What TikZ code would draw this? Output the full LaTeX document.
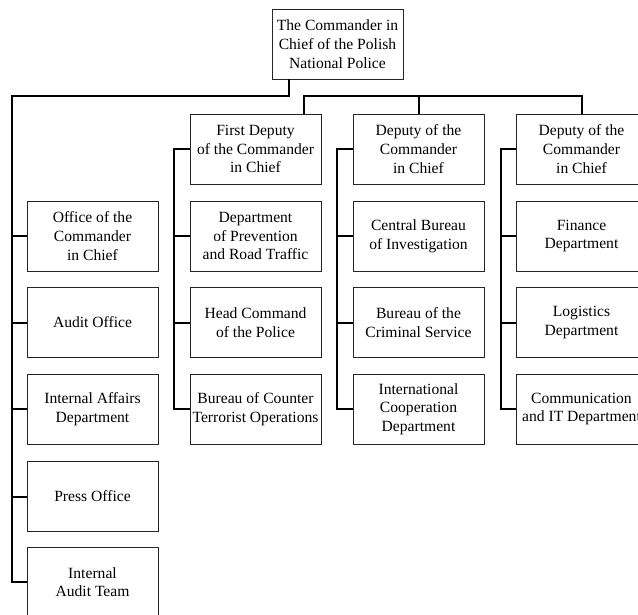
\documentclass[tikz,border=0pt]{standalone}
\usepackage{fontspec}
\setmainfont{Liberation Serif}
\usetikzlibrary{positioning,calc}

\begin{document}
\begin{tikzpicture}[
    x=0.75pt, y=-0.75pt,
    font=\fontsize{11.7}{14}\selectfont,
    unitbox/.style={draw=black!85, line width=0.6pt, fill=white, align=center, inner sep=1pt, minimum width=98.25pt, minimum height=52.5pt},
    link/.style={draw=black, line width=1.5pt}
]

  \useasboundingbox (0,0) rectangle (638,614);
  \clip (0,0) rectangle (638,614);

  % =========================================================================
  % TOP: COMMANDER IN CHIEF AND DEPUTIES
  % =========================================================================
  \node[unitbox] (root) at (337.5, 44) {The Commander in\\Chief of the Polish\\National Police};

  \node[unitbox] (dep1) at (255.5, 149) {First Deputy\\of the Commander\\in Chief};
  \node[unitbox] (dep2) at (418.5, 149) {Deputy of the\\Commander\\in Chief};
  \node[unitbox] (dep3) at (581.5, 149) {Deputy of the\\Commander\\in Chief};

  % =========================================================================
  % LEFT COLUMN: UNITS UNDER THE COMMANDER
  % =========================================================================
  \node[unitbox] (ofc)     at (92.5, 236)   {Office of the\\Commander\\in Chief};
  \node[unitbox] (audit)   at (92.5, 322.5) {Audit Office};
  \node[unitbox] (affairs) at (92.5, 409)   {Internal Affairs\\Department};
  \node[unitbox] (press)   at (92.5, 496.5) {Press Office};
  \node[unitbox] (team)    at (92.5, 582)   {Internal\\Audit Team};

  % =========================================================================
  % DEPUTY COLUMNS
  % =========================================================================
  \node[unitbox] (prev)   at (255.5, 236)   {Department\\of Prevention\\and Road Traffic};
  \node[unitbox] (police) at (255.5, 322.5) {Head Command\\of the Police};
  \node[unitbox] (cto)    at (255.5, 409)   {Bureau of Counter\\Terrorist Operations};

  \node[unitbox] (cbi)  at (418.5, 236)   {Central Bureau\\of Investigation};
  \node[unitbox] (crim) at (418.5, 322.5) {Bureau of the\\Criminal Service};
  \node[unitbox] (intl) at (418.5, 409)   {International\\Cooperation\\Department};

  \node[unitbox] (fin)  at (581.5, 236)   {Finance\\Department};
  \node[unitbox] (logi) at (581.5, 322.5) {Logistics\\Department};
  \node[unitbox] (comm) at (581.5, 409)   {Communication\\and IT Department};

  % =========================================================================
  % CONNECTORS
  % =========================================================================
  \coordinate (lbus) at (12, 96);
  \coordinate (rbus) at (304, 96);
  \coordinate (spine1) at (174, 149);
  \coordinate (spine2) at (337, 149);
  \coordinate (spine3) at (501, 149);

  % commander to left column
  \draw[link] ($(root.south)+(-48.5,0)$) |- (lbus) |- (team.west);
  \foreach \n in {ofc,audit,affairs,press}
    \draw[link] (\n.west) -- (\n.west -| lbus);

  % commander to deputies
  \draw[link] ($(root.south)+(15.5,0)$) -- ($(root.south)+(15.5,0)$ |- rbus);
  \draw[link] (rbus |- dep1.north) |- (rbus) -| (dep3.north);
  \draw[link] (dep2.north) -- (dep2.north |- rbus);

  % deputies to their units
  \draw[link] (dep1.west) -- (spine1) |- (cto.west);
  \draw[link] (dep2.west) -- (spine2) |- (intl.west);
  \draw[link] (dep3.west) -- (spine3) |- (comm.west);
  \foreach \n/\s in {prev/spine1,police/spine1,cbi/spine2,crim/spine2,fin/spine3,logi/spine3}
    \draw[link] (\n.west) -- (\n.west -| \s);

\end{tikzpicture}
\end{document}
